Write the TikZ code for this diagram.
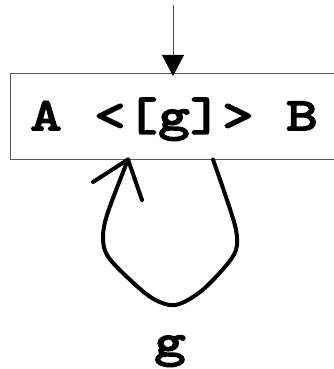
\documentclass[tikz,border=0pt]{standalone}
\usepackage{fontspec}
\newfontfamily\codefont{lmmono10-regular}[Extension=.otf, FakeBold=4, FakeStretch=1.3]
\usetikzlibrary{arrows.meta}
\newcommand{\cellc}[1]{\makebox[32pt]{#1}}
\begin{document}
\begin{tikzpicture}[x=1pt,y=-1pt,
  boxstyle/.style={draw=black!65, line width=1pt, minimum width=325pt, minimum height=86pt, inner sep=0pt, outer sep=0pt},
  codetext/.style={font=\codefont\fontsize{46}{46}\selectfont, inner sep=0pt},
  loopline/.style={line width=4pt, line cap=round, line join=round},
  feed/.style={draw=black!70, line width=1pt, -{Triangle[width=22pt,length=21pt,fill=black,color=black]}}]
\useasboundingbox (0,0) rectangle (333,369);
\node[boxstyle] (box) at (173,116) {};
\node[codetext, anchor=base] (txt) at (174,130) {\cellc{A}\cellc{}\cellc{<}\cellc{[}\cellc{g}\cellc{]}\cellc{>}\cellc{}\cellc{B}};
\coordinate (top) at (173,5);
\draw[feed, shorten >=-3pt] (top) -- (box.north);
\coordinate (ls) at (213,159.5);
\coordinate (le) at (128,159.5);
\draw[loopline] plot[smooth, tension=0.55] coordinates {(ls) (227,200) (236,230) (236,250) (224,268) (200,292) (175,305) (152,298) (126,276) (107,255) (103,236) (108,212) (le)};
\draw[loopline] (93,182) -- (le) -- (142,200);
\node[codetext, anchor=base] (lab) at (170,356) {g};
\end{tikzpicture}
\end{document}
